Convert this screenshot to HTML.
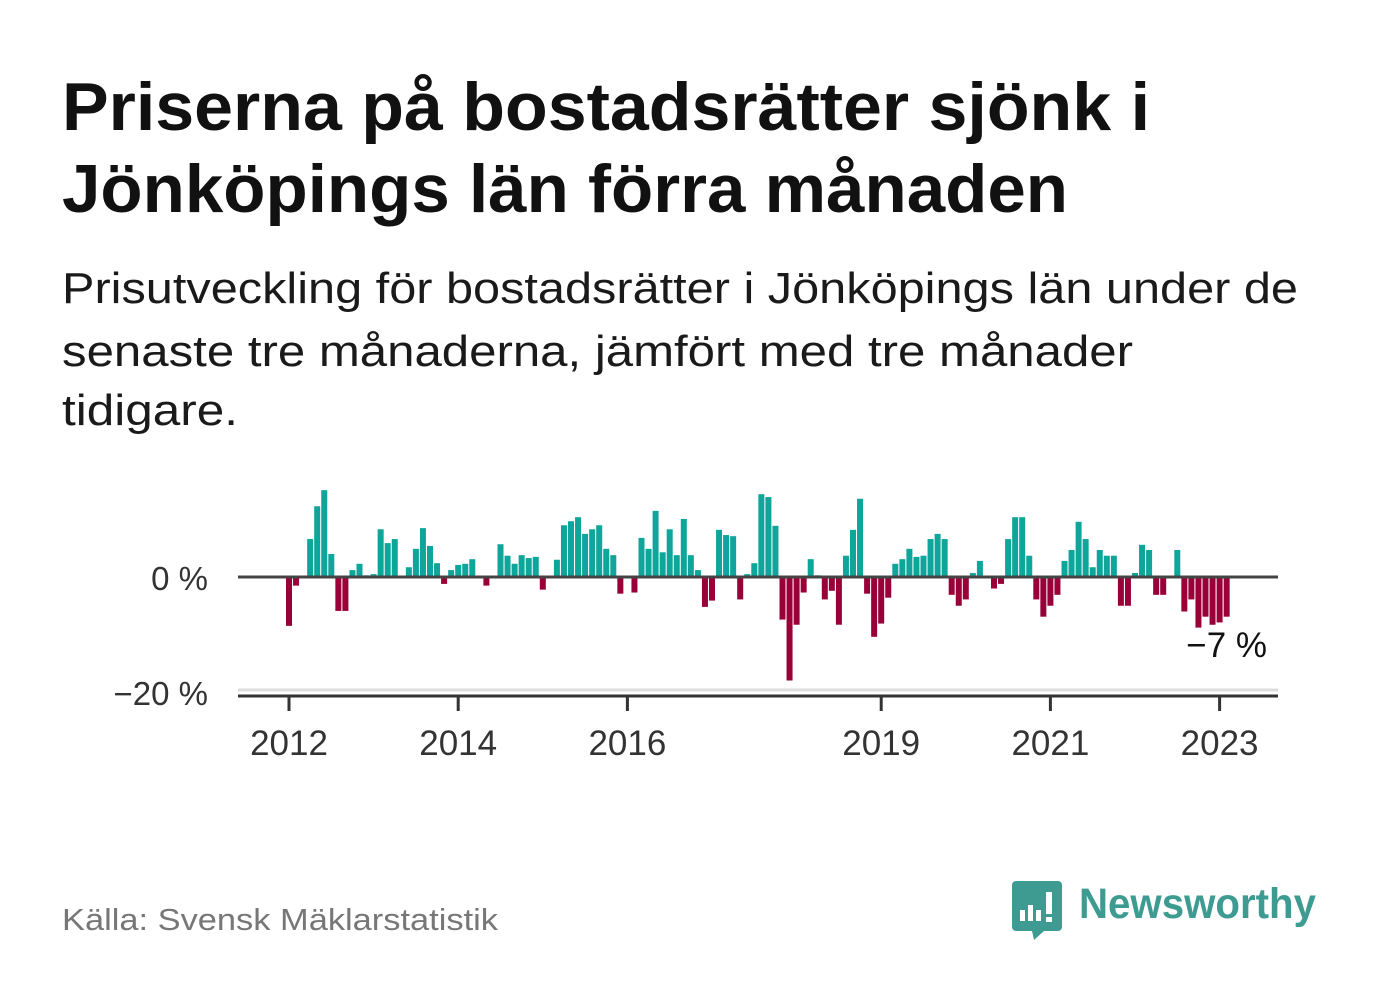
<!DOCTYPE html>
<html><head><meta charset="utf-8"><style>
html,body{margin:0;padding:0;background:#fff;}
svg{display:block;font-family:"Liberation Sans",sans-serif;}
</style></head><body>
<svg id="chart" width="1382" height="999" viewBox="0 0 1382 999">
<text x="62" y="130" font-size="68" font-weight="bold" fill="#111" textLength="1088" lengthAdjust="spacingAndGlyphs">Priserna på bostadsrätter sjönk i</text>
<text x="62" y="212" font-size="68" font-weight="bold" fill="#111" textLength="1006" lengthAdjust="spacingAndGlyphs">Jönköpings län förra månaden</text>
<text x="62" y="303" font-size="44" fill="#1a1a1a" textLength="1236" lengthAdjust="spacingAndGlyphs">Prisutveckling för bostadsrätter i Jönköpings län under de</text>
<text x="62" y="366" font-size="44" fill="#1a1a1a" textLength="1071" lengthAdjust="spacingAndGlyphs">senaste tre månaderna, jämfört med tre månader</text>
<text x="62" y="425" font-size="44" fill="#1a1a1a" textLength="176" lengthAdjust="spacingAndGlyphs">tidigare.</text>
<g id="plot"></g>
<text x="62" y="930" font-size="31" fill="#777" textLength="436" lengthAdjust="spacingAndGlyphs">Källa: Svensk Mäklarstatistik</text>
<g>
<path d="M1016 881 h42 a4 4 0 0 1 4 4 v42 a4 4 0 0 1 -4 4 h-14 l-10 9 l-2 -9 h-16 a4 4 0 0 1 -4 -4 v-42 a4 4 0 0 1 4 -4z" fill="#3e9b92"/>
<rect x="1020" y="910" width="5" height="11" fill="#fff"/><rect x="1028" y="905" width="5" height="16" fill="#fff"/><rect x="1036" y="910" width="5" height="11" fill="#fff"/><rect x="1046" y="892" width="6" height="22" fill="#fff"/><rect x="1046" y="917" width="6" height="5" fill="#fff"/>
<text x="1079" y="918" font-size="43" font-weight="bold" fill="#3e9b92" textLength="237" lengthAdjust="spacingAndGlyphs">Newsworthy</text>
</g>
</svg>
<script>
const months = 134;
const values = [-8.5,-1.5,0,6.6,12.3,15.1,4.0,-5.9,-5.9,1.2,2.3,0.3,0.5,8.3,5.9,6.6,0,1.7,4.9,8.5,5.4,2.4,-1.2,1.2,2.1,2.3,3.1,0,-1.5,0,5.7,3.7,2.3,3.8,3.3,3.5,-2.2,0,3.0,9.0,9.7,10.4,7.5,8.3,9.0,4.9,3.8,-2.9,0,-2.7,6.8,4.9,11.5,4.3,8.3,3.8,10.1,3.8,1.2,-5.2,-4.1,8.2,7.3,7.1,-3.9,0.5,2.4,14.4,13.9,8.9,-7.4,-18.0,-8.3,-2.7,3.1,0.3,-3.9,-2.4,-8.3,3.7,8.2,13.6,-2.9,-10.4,-8.1,-3.6,2.3,3.1,4.9,3.5,3.7,6.6,7.5,6.6,-3.1,-5.0,-3.9,0.7,2.8,0,-2.0,-1.2,6.6,10.4,10.4,3.7,-3.9,-6.9,-5.0,-3.1,2.8,4.7,9.6,6.6,1.7,4.7,3.7,3.7,-5.0,-5.0,0.7,5.6,4.7,-3.1,-3.1,0,4.7,-6.0,-3.9,-8.8,-6.9,-8.3,-7.9,-6.9];
const yTicks = [0,-20];
const yTickLabels = ["0 %","−20 %"];
const xTickYears = [2012,2014,2016,2019,2021,2023];
const lastLabel = "−7 %";

const NS="http://www.w3.org/2000/svg";
const g=document.getElementById('plot');
const x0=289, step=7.05, y0=577, pxPer=5.75;
const xScale=i=>x0+i*step;
const yScale=v=>y0-v*pxPer;
const xYear=yr=>xScale((yr-2012)*12);
function mk(t,a){const e=document.createElementNS(NS,t);for(const k in a)e.setAttribute(k,a[k]);g.appendChild(e);return e;}

let grid=mk('line',{x1:238,x2:1278,y1:yScale(-20)-2,y2:yScale(-20)-2,stroke:'#ddd','stroke-width':3});



values.forEach((v,i)=>{
  if(v===0)return;
  const r=mk('rect',{x:xScale(i)-3,width:6,y:Math.min(yScale(v),y0),height:Math.abs(yScale(v)-y0),fill:v>0?'#0ea59a':'#9a0038'});
  
  
});

let zl=mk('line',{x1:238,x2:1278,y1:y0,y2:y0,stroke:'#444','stroke-width':3});


let ax=mk('line',{x1:238,x2:1278,y1:696,y2:696,stroke:'#333','stroke-width':3});



yTicks.forEach((t,i)=>{
  const e=mk('text',{x:208,y:yScale(t)+13,'text-anchor':'end','font-size':33,fill:'#333'});
  e.textContent=yTickLabels[i];
  
  
});
xTickYears.forEach(yr=>{
  const x=xYear(yr);
  const t=mk('line',{x1:x,x2:x,y1:696,y2:711,stroke:'#333','stroke-width':3});
  
  
  const e=mk('text',{x:x,y:755,'text-anchor':'middle','font-size':35,fill:'#333'});
  e.textContent=yr;
  
  
});
const li=values.length-1;
const ll=mk('text',{x:xScale(li),y:657,'text-anchor':'middle','font-size':35,fill:'#111'});
ll.textContent=lastLabel;


</script>
</body></html>
